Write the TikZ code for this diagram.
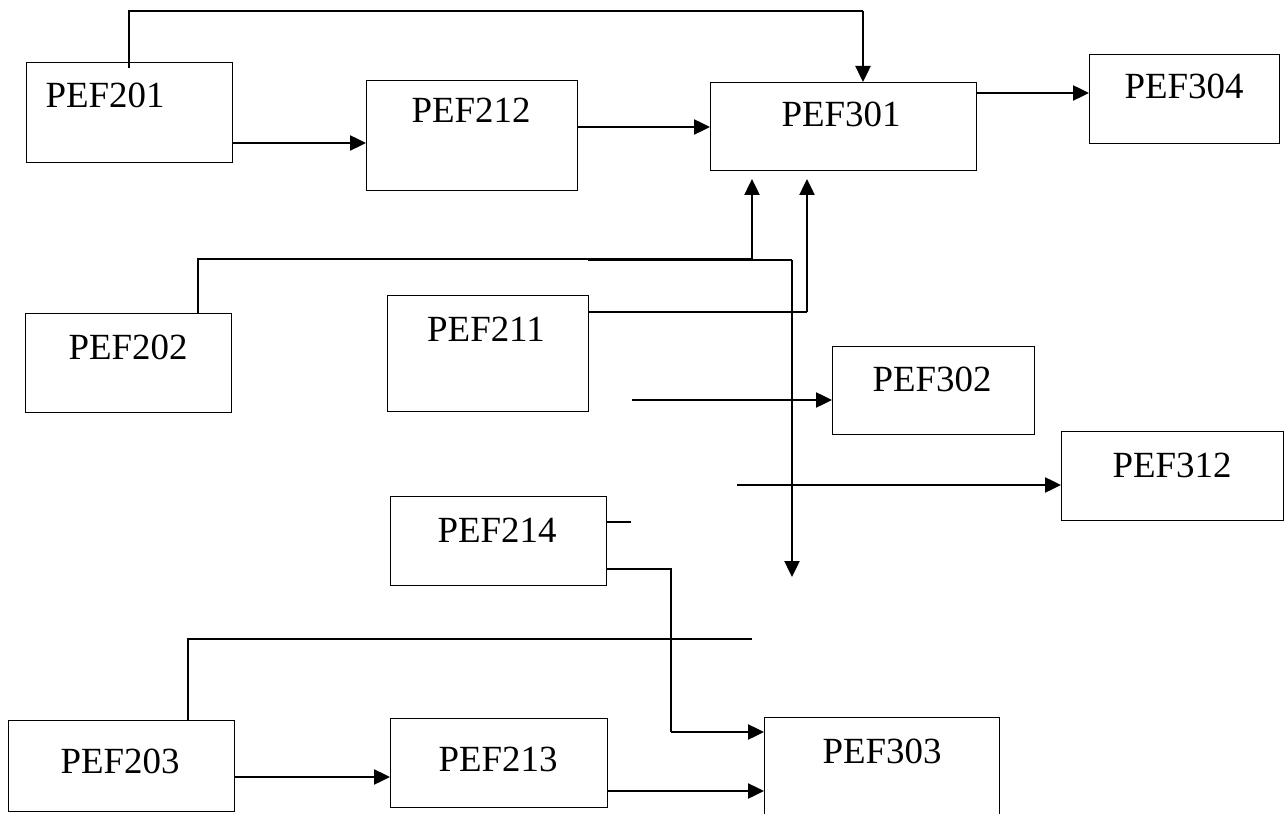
\documentclass[tikz,border=0pt]{standalone}
\usepackage{fontspec}
\setmainfont{Liberation Serif}
\usetikzlibrary{positioning,arrows.meta,calc}
\tikzset{
	>={Triangle[length=0.32cm,width=0.3cm]}
}

\begin{document}
\begin{tikzpicture}[
	x = 0.02cm,
	y = -0.02cm,
	every node/.style = {
		font = \fontsize{21}{25}\selectfont
	},
	unit/.style 2 args = {
		draw,
		line width = 0.75pt,
		inner sep = 0pt,
		anchor = north west,
		minimum width = #1*0.02cm,
		minimum height = #2*0.02cm
	},
	tag/.style = {
		anchor = base,
		inner sep = 0pt
	},
	wire/.style = {
		line width = 0.75pt
	},
	flow/.style = {
		->,
		line width = 1.4pt
	}
	]
	
	\useasboundingbox (0,0) rectangle (1285,814);
	
	\node[unit={206}{100}] (p201) at (26,62) {};
	\node[unit={211}{110}] (p212) at (366,80) {};
	\node[unit={266}{88}] (p301) at (710,82) {};
	\node[unit={190}{89}] (p304) at (1089,54) {};
	\node[unit={206}{99}] (p202) at (25,313) {};
	\node[unit={201}{116}] (p211) at (387,295) {};
	\node[unit={202}{88}] (p302) at (832,346) {};
	\node[unit={222}{89}] (p312) at (1061,431) {};
	\node[unit={216}{89}] (p214) at (390,496) {};
	\node[unit={226}{91}] (p203) at (8,720) {};
	\node[unit={217}{89}] (p213) at (390,718) {};
	\node[unit={235}{101}] (p303) at (764,717) {};
	
	\node[tag] (t201) at (105,108) {PEF201};
	\node[tag] (t212) at (471,123) {PEF212};
	\node[tag] (t301) at (841,127) {PEF301};
	\node[tag] (t304) at (1184,99) {PEF304};
	\node[tag] (t202) at (128,359) {PEF202};
	\node[tag] (t211) at (486,341) {PEF211};
	\node[tag] (t302) at (932,391) {PEF302};
	\node[tag] (t312) at (1172,477) {PEF312};
	\node[tag] (t214) at (497,542) {PEF214};
	\node[tag] (t203) at (120,773) {PEF203};
	\node[tag] (t213) at (498,771) {PEF213};
	\node[tag] (t303) at (882,763) {PEF303};
	
	\coordinate (k0) at (129,68);
	\coordinate (k1) at (863,11);
	\coordinate (a0) at (198,259);
	\coordinate (a1) at (752,259);
	\coordinate (a2) at (752,179);
	\coordinate (b0) at (588,260);
	\coordinate (b1) at (792,260);
	\coordinate (b2) at (792,577);
	\coordinate (c1) at (807,312);
	\coordinate (c2) at (807,179);
	\coordinate (d0) at (632,400);
	\coordinate (e0) at (737,485);
	\coordinate (f1) at (631,522);
	\coordinate (g1) at (671,569);
	\coordinate (g2) at (671,732);
	\coordinate (h1) at (188,639);
	\coordinate (h2) at (752,639);
	\coordinate (l0) at (0,143);
	\coordinate (m0) at (0,127);
	\coordinate (n0) at (0,93);
	\coordinate (i0) at (0,777);
	\coordinate (j0) at (0,791);
	
	\draw[wire] (k0) |- (k1);
	\draw[flow] (k1) -- (k1 |- p301.north);
	\draw[flow] (p201.east |- l0) -- (p212.west |- l0);
	\draw[flow] (p212.east |- m0) -- (p301.west |- m0);
	\draw[flow] (p301.east |- n0) -- (p304.west |- n0);
	
	\draw[wire] (p202.north -| a0) -- (a0) -- (a1);
	\draw[flow] (a1) -- (a2);
	\draw[wire] (b0) -- (b1);
	\draw[flow] (b1) -- (b2);
	\draw[wire] (p211.east |- c1) -- (c1);
	\draw[flow] (c1) -- (c2);
	\draw[flow] (d0) -- (p302.west |- d0);
	\draw[flow] (e0) -- (p312.west |- e0);
	
	\draw[wire] (p214.east |- f1) -- (f1);
	\draw[wire] (p214.east |- g1) -- (g1) -- (g2);
	\draw[flow] (g2) -- (p303.west |- g2);
	\draw[wire] (p203.north -| h1) -- (h1) -- (h2);
	\draw[flow] (p203.east |- i0) -- (p213.west |- i0);
	\draw[flow] (p213.east |- j0) -- (p303.west |- j0);
	
\end{tikzpicture}
\end{document}
